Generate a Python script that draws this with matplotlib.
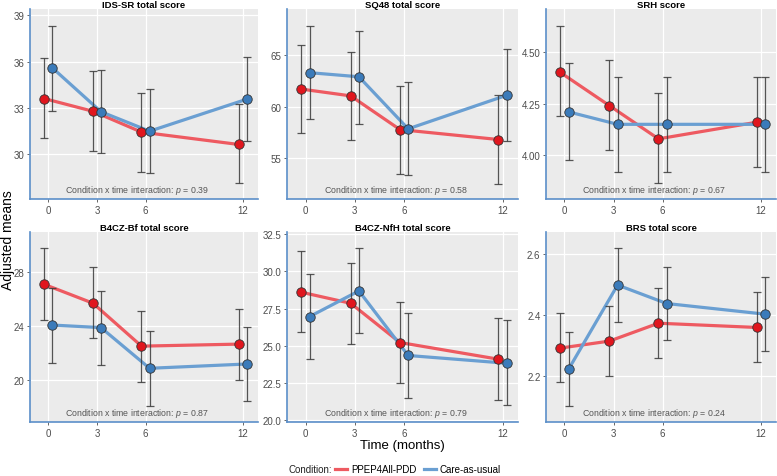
import matplotlib.pyplot as plt
from matplotlib.lines import Line2D
import numpy as np

plt.rcParams['font.family'] = ['Liberation Sans', 'DejaVu Sans']
plt.rcParams['mathtext.fontset'] = 'custom'
plt.rcParams['mathtext.it'] = 'Liberation Sans:italic'
plt.rcParams['mathtext.rm'] = 'Liberation Sans'

months = [0, 3, 6, 12]
conditions = ['PPEP4All-PDD', 'Care-as-usual']
titles = ['IDS-SR total score', 'SQ48 total score', 'SRH score',
          'B4CZ-Bf total score', 'B4CZ-NfH total score', 'BRS total score']
p_values = ['0.39', '0.58', '0.67', '0.87', '0.79', '0.24']

ids_ppep = [33.6, 32.78, 31.43, 30.63]
ids_ppep_lo = [31.08, 30.2, 28.83, 28.12]
ids_ppep_hi = [36.2, 35.37, 33.97, 33.22]
ids_cau = [35.59, 32.75, 31.49, 33.56]
ids_cau_lo = [32.8, 30.06, 28.79, 30.86]
ids_cau_hi = [38.33, 35.48, 34.23, 36.28]

sq_ppep = [61.7, 61.04, 57.76, 56.79]
sq_ppep_lo = [57.42, 56.77, 53.45, 52.5]
sq_ppep_hi = [65.98, 65.33, 62.05, 61.1]
sq_cau = [63.3, 62.9, 57.83, 61.1]
sq_cau_lo = [58.8, 58.35, 53.3, 56.6]
sq_cau_hi = [67.85, 67.37, 62.4, 65.6]

srh_ppep = [4.40, 4.24, 4.08, 4.16]
srh_ppep_lo = [4.19, 4.026, 3.865, 3.945]
srh_ppep_hi = [4.625, 4.46, 4.30, 4.38]
srh_cau = [4.21, 4.15, 4.15, 4.15]
srh_cau_lo = [3.98, 3.92, 3.92, 3.92]
srh_cau_hi = [4.445, 4.38, 4.38, 4.38]

bf_ppep = [27.1, 25.7, 22.5, 22.65]
bf_ppep_lo = [24.47, 23.1, 19.8, 19.97]
bf_ppep_hi = [29.8, 28.4, 25.15, 25.3]
bf_cau = [24.07, 23.88, 20.85, 21.17]
bf_cau_lo = [21.27, 21.1, 18.06, 18.4]
bf_cau_hi = [26.8, 26.63, 23.6, 23.95]

nfh_ppep = [28.59, 27.85, 25.22, 24.1]
nfh_ppep_lo = [25.9, 25.1, 22.48, 21.35]
nfh_ppep_hi = [31.34, 30.58, 27.95, 26.84]
nfh_cau = [26.96, 28.68, 24.35, 23.83]
nfh_cau_lo = [24.1, 25.83, 21.5, 21.0]
nfh_cau_hi = [29.8, 31.54, 27.2, 26.7]

brs_ppep = [2.291, 2.314, 2.373, 2.359]
brs_ppep_lo = [2.178, 2.199, 2.258, 2.245]
brs_ppep_hi = [2.407, 2.43, 2.488, 2.475]
brs_cau = [2.221, 2.499, 2.438, 2.403]
brs_cau_lo = [2.1, 2.377, 2.316, 2.281]
brs_cau_hi = [2.343, 2.621, 2.56, 2.524]

panels = [
    (ids_ppep, ids_ppep_lo, ids_ppep_hi, ids_cau, ids_cau_lo, ids_cau_hi),
    (sq_ppep, sq_ppep_lo, sq_ppep_hi, sq_cau, sq_cau_lo, sq_cau_hi),
    (srh_ppep, srh_ppep_lo, srh_ppep_hi, srh_cau, srh_cau_lo, srh_cau_hi),
    (bf_ppep, bf_ppep_lo, bf_ppep_hi, bf_cau, bf_cau_lo, bf_cau_hi),
    (nfh_ppep, nfh_ppep_lo, nfh_ppep_hi, nfh_cau, nfh_cau_lo, nfh_cau_hi),
    (brs_ppep, brs_ppep_lo, brs_ppep_hi, brs_cau, brs_cau_lo, brs_cau_hi),
]
yticks = [[30, 33, 36, 39], [55, 60, 65], [4.0, 4.25, 4.5],
          [20, 24, 28], [20, 22.5, 25, 27.5, 30, 32.5], [2.2, 2.4, 2.6]]
ytick_fmt = ['{:.0f}', '{:.0f}', '{:.2f}', '{:.0f}', '{:.1f}', '{:.1f}']
ylims = [(27.1, 39.4), (51.0, 69.5), (3.79, 4.706),
         (16.85, 31.0), (19.89, 32.63), (2.047, 2.674)]

line_red = '#EE5A61'
line_blue = '#6A9FD2'
pt_red = '#E0161E'
pt_blue = '#3B7BBA'
spine_col = '#5B8FC9'

W, H = 777, 477
fig = plt.figure(figsize=(W / 100, H / 100), dpi=100)

lefts = [30, 287, 546]
widths = [228, 231, 230]
tops = [10, 233]
ph = 190

m = np.array(months)
dodge = 0.25
for i, (title, data) in enumerate(zip(titles, panels)):
    r, c = divmod(i, 3)
    ax = fig.add_axes([lefts[c] / W, (H - tops[r] - ph) / H, widths[c] / W, ph / H])
    ax.set_facecolor('#EBEBEB')
    ax.grid(True, color='white', linewidth=0.9)
    ax.set_axisbelow(True)
    red, red_lo, red_hi, blue, blue_lo, blue_hi = [np.array(d) for d in data]

    ax.plot(m - dodge, red, color=line_red, linewidth=2.3, zorder=2)
    ax.plot(m + dodge, blue, color=line_blue, linewidth=2.3, zorder=2)
    ax.errorbar(m - dodge, red, yerr=[red - red_lo, red_hi - red], fmt='none',
                ecolor='#3a3a3a', elinewidth=0.9, capsize=3.2, capthick=0.9, alpha=0.85, zorder=3)
    ax.errorbar(m + dodge, blue, yerr=[blue - blue_lo, blue_hi - blue], fmt='none',
                ecolor='#3a3a3a', elinewidth=0.9, capsize=3.2, capthick=0.9, alpha=0.85, zorder=3)
    ax.plot(m - dodge, red, 'o', color=pt_red, markersize=6.8,
            markeredgecolor='#333333', markeredgewidth=0.6, zorder=4)
    ax.plot(m + dodge, blue, 'o', color=pt_blue, markersize=6.8,
            markeredgecolor='#333333', markeredgewidth=0.6, zorder=4)

    ax.set_xlim(-1.13, 12.94)
    ax.set_xticks(months)
    ax.set_ylim(*ylims[i])
    ax.set_yticks(yticks[i])
    ax.set_yticklabels([ytick_fmt[i].format(v) for v in yticks[i]])
    ax.tick_params(labelsize=7, colors='#4D4D4D', length=2.5, width=0.6, pad=1.5)
    for s in ['top', 'right']:
        ax.spines[s].set_visible(False)
    for s in ['left', 'bottom']:
        ax.spines[s].set_color(spine_col)
        ax.spines[s].set_linewidth(1.2)
    ax.set_title(title, fontsize=6.8, fontweight='bold', pad=1.5)
    ax.text(0.47, 0.05, 'Condition x time interaction: $p$ = ' + p_values[i],
            transform=ax.transAxes, ha='center', va='center', fontsize=6.3, color='#555555')

fig.text(8 / W, 1 - 240 / H, 'Adjusted means', rotation=90, ha='center', va='center', fontsize=10)
fig.text(402 / W, 1 - 446 / H, 'Time (months)', ha='center', va='center', fontsize=9.5)

fig.text(310 / W, 1 - 470 / H, 'Condition:', ha='center', va='center', fontsize=7, color='#222222')
handles = [Line2D([], [], color=line_red, linewidth=2.3),
           Line2D([], [], color=line_blue, linewidth=2.3)]
fig.legend(handles, conditions, loc='center', bbox_to_anchor=(418 / W, 1 - 470 / H), ncol=2,
           frameon=False, fontsize=7, handlelength=1.2, handletextpad=0.4, columnspacing=0.8)

fig.savefig('out.png', dpi=100)
